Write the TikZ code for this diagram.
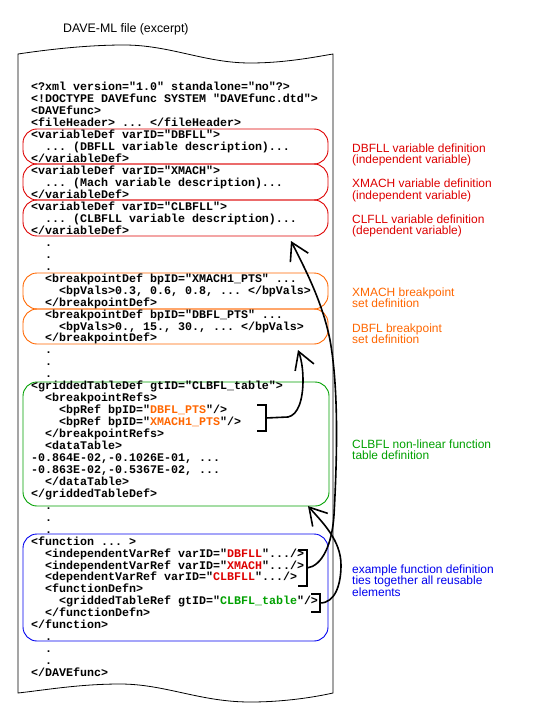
\documentclass[tikz,border=0pt]{standalone}
\usepackage{fontspec}
\setsansfont{Liberation Sans}
\setmonofont{Liberation Mono}
\usetikzlibrary{arrows.meta}

\definecolor{davered}{RGB}{221,0,0}
\definecolor{daveorange}{RGB}{255,102,0}
\definecolor{davegreen}{RGB}{0,160,0}
\definecolor{daveblue}{RGB}{0,0,238}

\newcommand{\tabin}{\hphantom{00}}
\newcommand{\etc}{...}

\tikzset{
  codeline/.style={anchor=base west, inner sep=0pt, font=\ttfamily\bfseries\fontsize{11.7}{12}\selectfont\frenchspacing},
  note/.style={anchor=base west, inner sep=0pt, align=left, font=\sffamily\fontsize{12}{11.6}\selectfont},
  defbox/.style={line width=0.9bp, rounded corners=14bp},
  bracket/.style={line width=1.6bp},
  refarrow/.style={line width=1.6bp, -{Straight Barb[length=17bp,width=20bp]}},
}

\begin{document}
\begin{tikzpicture}[x=1bp,y=-1bp]
  \useasboundingbox (0,0) rectangle (540,720);
  % \draw[step=20,thin,gray!40] (0,0) grid (540,720);

  \node[note, font=\sffamily\fontsize{12.4}{12}\selectfont] (fileTitle) at (63,33) {DAVE-ML file (excerpt)};

  % torn sheet
  \draw[line width=0.8bp] (18,54) .. controls (45,50) and (85,45) .. (124,45)
    .. controls (170,45) and (205,63) .. (250,63)
    .. controls (285,63) and (315,57) .. (333,54) -- (333,693)
    .. controls (315,697) and (285,702) .. (250,702)
    .. controls (200,702) and (165,684) .. (120,684)
    .. controls (80,684) and (45,690) .. (18,693) -- cycle;

  \draw[defbox, davered] (23,129) rectangle (328,164);
  \draw[defbox, davered] (23,164) rectangle (328,200);
  \draw[defbox, davered] (23,200) rectangle (328,236);
  \draw[defbox, daveorange] (23,273) rectangle (328,309);
  \draw[defbox, daveorange] (23,309) rectangle (328,344);
  \draw[defbox, davegreen] (23,382) rectangle (329,506);
  \draw[defbox, daveblue] (23,534) rectangle (328,641);

  \foreach \codetext [count=\k] in {
    {<?xml version="1.0" standalone="no"?>},
    {<!DOCTYPE DAVEfunc SYSTEM "DAVEfunc.dtd">},
    {<DAVEfunc>},
    {<fileHeader> \etc{} </fileHeader>},
    {<variableDef varID="DBFLL">},
    {\tabin\etc{} (DBFLL variable description)\etc},
    {</variableDef>},
    {<variableDef varID="XMACH">},
    {\tabin\etc{} (Mach variable description)\etc},
    {</variableDef>},
    {<variableDef varID="CLBFLL">},
    {\tabin\etc{} (CLBFLL variable description)\etc},
    {</variableDef>},
    {\tabin.}, {\tabin.}, {\tabin.},
    {\tabin<breakpointDef bpID="XMACH1\_PTS" \etc},
    {\tabin\tabin<bpVals>0.3, 0.6, 0.8, \etc{} </bpVals>},
    {\tabin</breakpointDef>},
    {\tabin<breakpointDef bpID="DBFL\_PTS" \etc},
    {\tabin\tabin<bpVals>0., 15., 30., \etc{} </bpVals>},
    {\tabin</breakpointDef>},
    {\tabin.}, {\tabin.}, {\tabin.},
    {<griddedTableDef gtID="CLBFL\_table">},
    {\tabin<breakpointRefs>},
    {\tabin\tabin<bpRef bpID="\textcolor{daveorange}{DBFL\_PTS}"/>},
    {\tabin\tabin<bpRef bpID="\textcolor{daveorange}{XMACH1\_PTS}"/>},
    {\tabin</breakpointRefs>},
    {\tabin<dataTable>},
    {-0.864E-02,-0.1026E-01, \etc},
    {-0.863E-02,-0.5367E-02, \etc},
    {\tabin</dataTable>},
    {</griddedTableDef>},
    {\tabin.}, {\tabin.}, {\tabin.},
    {<function \etc{} >},
    {\tabin<independentVarRef varID="\textcolor{davered}{DBFLL}"\etc/>},
    {\tabin<independentVarRef varID="\textcolor{davered}{XMACH}"\etc/>},
    {\tabin<dependentVarRef varID="\textcolor{davered}{CLBFLL}"\etc/>},
    {\tabin<functionDefn>},
    {\tabin\tabin<griddedTableRef gtID="\textcolor{davegreen}{CLBFL\_table}"/>},
    {\tabin</functionDefn>},
    {</function>},
    {\tabin.}, {\tabin.}, {\tabin.},
    {</DAVEfunc>}}
    \node[codeline] (line\k) at (31,{91+11.95*(\k-1)}) {\codetext};

  % notes sit on the baseline of their last line
  \node[note, text=davered] (dbfllNote) at (352,163.6) {DBFLL variable definition\\(independent variable)};
  \node[note, text=davered] (xmachNote) at (352,199.1) {XMACH variable definition\\(independent variable)};
  \node[note, text=davered] (clfllNote) at (352,234.6) {CLFLL variable definition\\(dependent variable)};
  \node[note, text=daveorange] (xmachBpNote) at (352,307.6) {XMACH breakpoint\\set definition};
  \node[note, text=daveorange] (dbflBpNote) at (352,343.6) {DBFL breakpoint\\set definition};
  \node[note, text=davegreen] (tableNote) at (352,459.6) {CLBFL non-linear function\\table definition};
  \node[note, text=daveblue] (functionNote) at (352,596.2) {example function definition\\ties together all reusable\\elements};

  \coordinate (bpRefsMid) at (266,418);
  \coordinate (varRefsMid) at (307,568);
  \coordinate (gtRefMid) at (320,603);
  \coordinate (clbfllTip) at (291,241);
  \coordinate (dbflTip) at (298,350);
  \coordinate (tableTip) at (308,506);

  \draw[bracket] (257,405) -- (266,405) -- (266,431) -- (257,431);
  \draw[bracket] (298,550) -- (307,550) -- (307,586) -- (298,586);
  \draw[bracket] (311,594) -- (320,594) -- (320,612) -- (311,612);

  \draw[refarrow] (bpRefsMid) -- (288,417) .. controls (298,415) and (303,400) .. (303,380)
    .. controls (303,368) and (301,358) .. (dbflTip);
  \draw[refarrow] (varRefsMid) .. controls (322,566) and (332,545) .. (334,515)
    .. controls (337,460) and (339,390) .. (330,340)
    .. controls (322,300) and (303,265) .. (clbfllTip);
  \draw[refarrow] (gtRefMid) .. controls (335,603) and (341,585) .. (341,565)
    .. controls (341,540) and (322,522) .. (tableTip);

\end{tikzpicture}
\end{document}
